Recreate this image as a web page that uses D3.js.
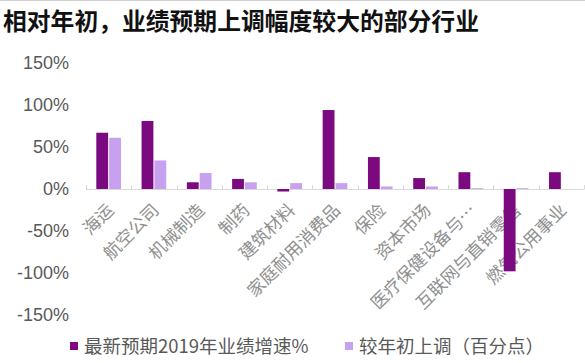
<!DOCTYPE html>
<html>
<head>
<meta charset="utf-8">
<script src="https://cdn.jsdelivr.net/npm/d3@7"></script>
<style>
  html, body { margin: 0; padding: 0; background: #fff; }
  svg { display: block; }
</style>
</head>
<body>
<div id="chart"></div>
<script>
// Data
const categories = ["海运", "航空公司", "机械制造", "制药", "建筑材料", "家庭耐用消费品",
  "保险", "资本市场", "医疗保健设备与…", "互联网与直销零售", "燃气公用事业"];
const growth2019 = [67, 81, 8, 12, -3, 94, 38, 13, 20, -98, 20];
const revisionPts = [61, 34, 19, 8, 7, 7, 3, 3, 1, 1, 0];
const yTicks = [150, 100, 50, 0, -50, -100, -150];
const seriesNames = ["最新预期2019年业绩增速%", "较年初上调（百分点）"];
const colors = ["#7b0a80", "#c8a0f0"];

const width = 585, height = 363;
const svg = d3.select("#chart").append("svg")
  .attr("width", width).attr("height", height);

// top border line
svg.append("line")
  .attr("x1", 0).attr("x2", width).attr("y1", 0.5).attr("y2", 0.5)
  .attr("stroke", "#cfcfcf").attr("stroke-width", 1);

// Title
svg.append("text")
  .attr("x", 3).attr("y", 30)
  .style("font-family", "'Noto Sans CJK SC', sans-serif")
  .style("font-weight", "bold")
  .style("font-size", "23.8px")
  .attr("fill", "#111")
  .text("相对年初，业绩预期上调幅度较大的部分行业");

const x = d3.scaleBand().domain(categories).range([86, 584]).padding(0);
const inner = d3.scaleBand().domain([0, 1]).range([10.3, x.bandwidth() - 10.3]).paddingInner(0.08);
const y = d3.scaleLinear().domain([-150, 150]).range([315, 63]);

// Y axis labels
svg.append("g").selectAll("text")
  .data(yTicks).join("text")
  .attr("x", 69).attr("y", d => y(d))
  .attr("dy", "0.36em")
  .attr("text-anchor", "end")
  .style("font-family", "'Liberation Sans', Arial, sans-serif")
  .style("font-size", "18px")
  .attr("fill", "#595959")
  .text(d => d + "%");

// Category labels (rotated)
svg.append("g").selectAll("text")
  .data(categories).join("text")
  .attr("transform", d => `translate(${x(d) + x.bandwidth() / 2 + 2},${y(0) + 18}) rotate(-45)`)
  .attr("text-anchor", "end")
  .attr("dy", "0.35em")
  .style("font-family", "'Noto Sans CJK SC', sans-serif")
  .style("font-size", "17.5px")
  .attr("fill", "#8f8f8f")
  .text(d => d);

// Zero axis line and ticks
svg.append("line")
  .attr("x1", x.range()[0]).attr("x2", x.range()[1])
  .attr("y1", y(0) + 0.5).attr("y2", y(0) + 0.5)
  .attr("stroke", "#d9d9d9");
svg.append("g").selectAll("line")
  .data(categories.concat([null])).join("line")
  .attr("x1", (d, i) => Math.round(x.range()[0] + i * x.step()) + 0.5)
  .attr("x2", (d, i) => Math.round(x.range()[0] + i * x.step()) + 0.5)
  .attr("y1", y(0) - 4).attr("y2", y(0) + 0.5)
  .attr("stroke", "#d9d9d9");

// Bars
const series = [growth2019, revisionPts];
series.forEach((vals, s) => {
  svg.append("g").selectAll("rect")
    .data(vals).join("rect")
    .attr("x", (d, i) => x(categories[i]) + inner(s))
    .attr("width", inner.bandwidth())
    .attr("y", d => y(Math.max(0, d)))
    .attr("height", d => Math.abs(y(d) - y(0)))
    .attr("fill", colors[s]);
});

// Legend
const legendX = [70, 345];
const legend = svg.append("g").selectAll("g")
  .data(seriesNames).join("g")
  .attr("transform", (d, i) => `translate(${legendX[i]},346)`);
legend.append("rect")
  .attr("x", 0).attr("y", -4).attr("width", 8).attr("height", 8)
  .attr("fill", (d, i) => colors[i]);
legend.append("text")
  .attr("x", 14).attr("dy", "0.36em")
  .style("font-family", "'Noto Sans CJK SC', sans-serif")
  .style("font-size", "18.5px")
  .attr("fill", "#595959")
  .text(d => d);
</script>
</body>
</html>
